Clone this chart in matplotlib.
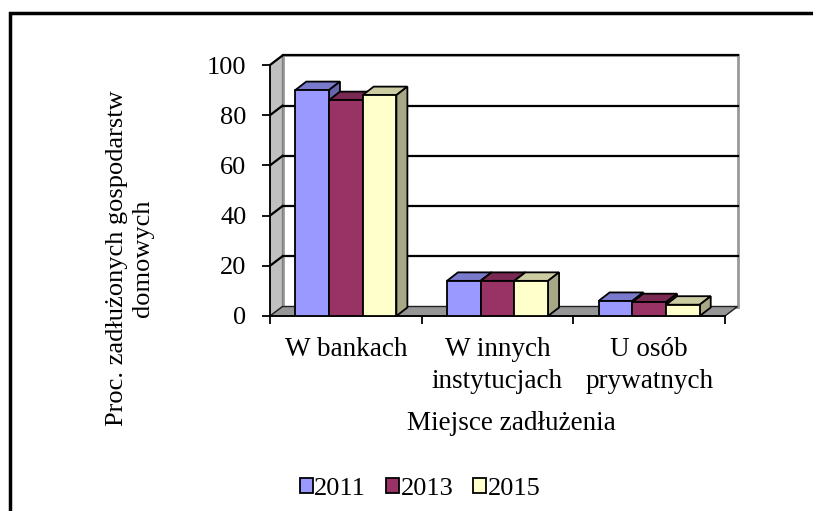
import numpy as np
import matplotlib
matplotlib.use("Agg")
import matplotlib.pyplot as plt
from matplotlib.patches import Polygon, Rectangle
from matplotlib.transforms import Affine2D, IdentityTransform

# ------------------------------------------------------------
# data
# ------------------------------------------------------------
categories = ["W bankach", "W innych\ninstytucjach", "U osób\nprywatnych"]
years = ["2011", "2013", "2015"]
v2011 = [90, 14, 6]
v2013 = [86, 14, 5.5]
v2015 = [88, 14, 4.5]
series = [v2011, v2013, v2015]

front_cols = ["#9999FF", "#993366", "#FFFFCC"]
top_cols = ["#7A7ACC", "#7A2952", "#CCCCA3"]
side_cols = ["#6666AA", "#662244", "#A8A887"]

plt.rcParams["font.family"] = ["Liberation Serif", "DejaVu Serif"]

W, H = 813, 511
fig = plt.figure(figsize=(W / 100, H / 100), dpi=100)

# front plane of the 3d box, in pixels
x0, x1, y0, y1 = 270, 725, 316, 65
ax = fig.add_axes([x0 / W, 1 - y0 / H, (x1 - x0) / W, (y0 - y1) / H])
ax.set_xlim(0, 3)
ax.set_ylim(0, 100)
ax.patch.set_facecolor("none")

DX, DY = 12.5, 9.5      # wall depth in px
BDX, BDY = 11, 8.5      # bar depth in px
back = ax.transData + Affine2D().translate(DX, DY)


def px(x, y, dx=0, dy=0):
    p = ax.transData.transform((x, y))
    return (p[0] + dx, p[1] + dy)


def poly(pts, fc, ec, lw, z):
    ax.add_patch(Polygon(pts, closed=True, facecolor=fc, edgecolor=ec, lw=lw,
                         transform=IdentityTransform(), clip_on=False, zorder=z))


# walls and floor
ax.add_patch(Rectangle((0, 0), 3, 100, facecolor="white", edgecolor="#999999",
                       lw=2, transform=back, clip_on=False, zorder=0.3))
poly([px(0, 0), px(0, 100), px(0, 100, DX, DY), px(0, 0, DX, DY)],
     "#C0C0C0", "#808080", 1, 0.4)
poly([px(0, 0), px(3, 0), px(3, 0, DX, DY), px(0, 0, DX, DY)],
     "#969696", "#202020", 1, 0.5)

# gridlines on back and left wall
for v in [20, 40, 60, 80, 100]:
    ax.plot([0, 3], [v, v], color="black", lw=1.6, transform=back,
            clip_on=False, zorder=0.6)
    a, b = px(0, v), px(0, v, DX, DY)
    ax.plot([a[0], b[0]], [a[1], b[1]], color="black", lw=1.6,
            transform=IdentityTransform(), clip_on=False, zorder=0.6)

# bars
bw = 1 / 4.5
xc = np.arange(len(categories)) + 0.5
handles = []
z = 3
for i in range(len(categories)):
    for s, vals in enumerate(series):
        left = xc[i] + (s - 1.5) * bw
        bar = ax.bar(left, vals[i], width=bw, align="edge", color=front_cols[s],
                     edgecolor="black", lw=1.3, zorder=z + 0.5)
        if i == 0:
            handles.append(bar)
        top = vals[i]
        poly([px(left, top), px(left + bw, top), px(left + bw, top, BDX, BDY),
              px(left, top, BDX, BDY)], top_cols[s], "black", 1.3, z)
        poly([px(left + bw, 0), px(left + bw, top), px(left + bw, top, BDX, BDY),
              px(left + bw, 0, BDX, BDY)], side_cols[s], "black", 1.3, z)
        z += 1

# axes
for sp in ["top", "right"]:
    ax.spines[sp].set_visible(False)
ax.spines["left"].set_zorder(1)
ax.spines["bottom"].set_zorder(1)
ax.spines["left"].set_linewidth(1.3)
ax.spines["bottom"].set_linewidth(1.3)
ax.set_yticks([0, 20, 40, 60, 80, 100])
ax.tick_params(axis="y", direction="out", length=6, width=1.3, pad=11,
               labelsize=19)
ax.set_xticks(xc)
ax.set_xticklabels(categories, fontsize=19.5, linespacing=1.4)
ax.set_xticks([0, 1, 2, 3], minor=True)
ax.tick_params(axis="x", which="major", length=0, pad=15)
ax.tick_params(axis="x", which="minor", length=6, width=1.3)

fig.text(511 / W, 1 - 423 / H, "Miejsce zadłużenia", ha="center", va="center",
         fontsize=19.5)
fig.text(130 / W, 1 - 258 / H, "Proc. zadłużonych gospodarstw\ndomowych",
         rotation=90, ha="center", va="center", fontsize=19, linespacing=1.2)

fig.legend(handles=handles, labels=years, loc="center",
           bbox_to_anchor=(420 / W, 1 - 489 / H), ncol=3, frameon=False,
           fontsize=19, handlelength=0.5, handleheight=0.5,
           handletextpad=0.05, columnspacing=0.75, borderpad=0)

# outer frame, only top and left edges fall inside the picture
fig.patches.append(Rectangle((10 / W, -0.2), 2, 1.2 - 13 / H, fill=False,
                             edgecolor="black", lw=2.5,
                             transform=fig.transFigure, figure=fig))

plt.savefig("out.png", dpi=100)
